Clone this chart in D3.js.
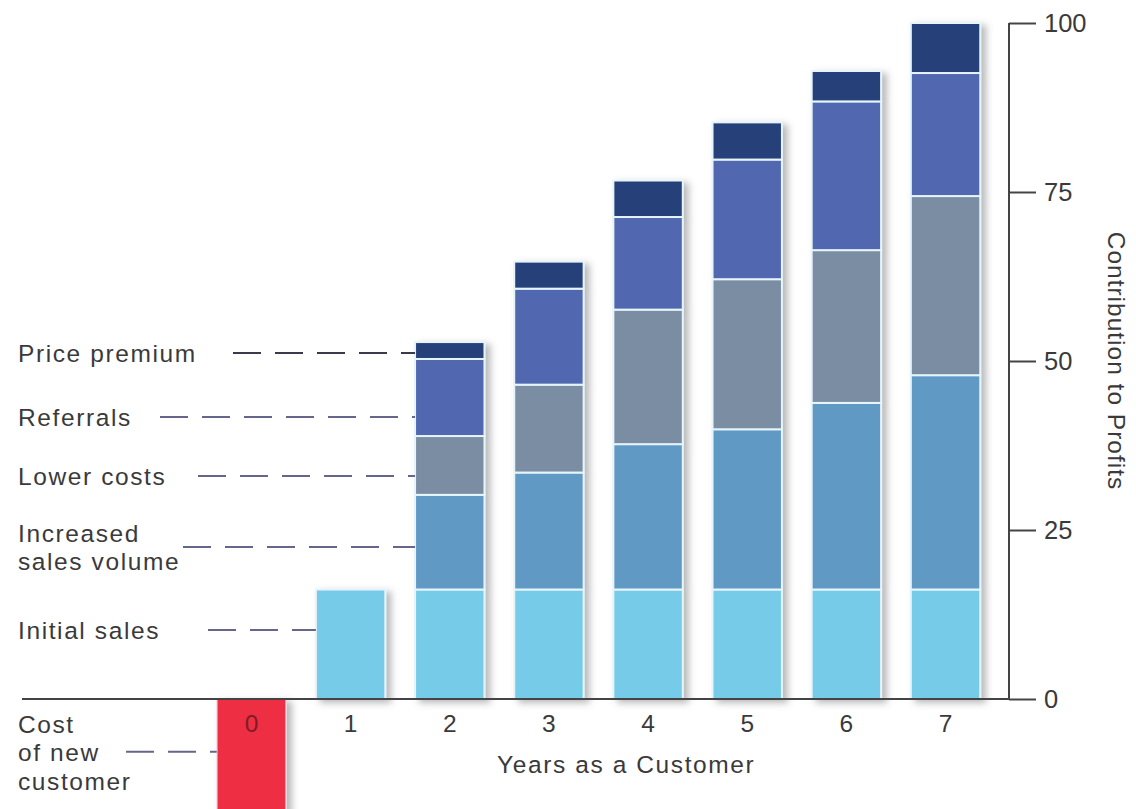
<!DOCTYPE html>
<html>
<head>
<meta charset="utf-8">
<script src="https://cdn.jsdelivr.net/npm/d3@7/dist/d3.min.js"></script>
<style>
  body { margin: 0; background: #fff; }
  svg { display: block; font-family: "Liberation Sans", Arial, Helvetica, sans-serif; }
  .lbl { font-size: 24.5px; fill: #3a3a3a; letter-spacing: 1.6px; }
  .tick text { font-size: 25.5px; fill: #3a3a3a; }
</style>
</head>
<body>
<div id="chart"></div>
<script>
// years on the x axis
var years = ["0", "1", "2", "3", "4", "5", "6", "7"];
// stacked series, bottom to top
var seriesNames = ["Initial sales", "Increased sales volume", "Lower costs", "Referrals", "Price premium"];
var initialSales   = [0, 16.2, 16.2, 16.2, 16.2, 16.2, 16.2, 16.2];
var salesVolume    = [0, 0, 14.0, 17.3, 21.5, 23.7, 27.6, 31.7];
var lowerCosts     = [0, 0, 8.7, 13.0, 19.9, 22.2, 22.6, 26.5];
var referrals      = [0, 0, 11.4, 14.2, 13.7, 17.7, 22.0, 18.2];
var pricePremium   = [0, 0, 2.5, 4.0, 5.4, 5.5, 4.5, 7.4];
var costOfCustomer = [-18, 0, 0, 0, 0, 0, 0, 0];
var seriesColors = ["#74cbe8", "#6199c4", "#7a8da2", "#5168b0", "#263f7a"];
var costColor = "#ee2d43";
var yTicks = [0, 25, 50, 75, 100];

// left-hand labels: text lines, where the leader sits (in profit units), which bar it points to
var labelLines = [["Price premium"], ["Referrals"], ["Lower costs"], ["Increased", "sales volume"], ["Initial sales"], ["Cost", "of new", "customer"]];
var leaderAt = [51.2, 41.7, 33.0, 22.5, 10.2, -7.8];
var leaderBar = ["2", "2", "2", "2", "1", "0"];
var leaderFrom = [233, 160, 198, 183, 208, 126];

var width = 1136, height = 809;
var svg = d3.select("#chart").append("svg").attr("width", width).attr("height", height);

var x = d3.scaleBand().domain(years).range([187, 1010]).paddingInner(0.3).paddingOuter(0.3);
var y = d3.scaleLinear().domain([0, 100]).range([699, 23]);

var defs = svg.append("defs");
defs.append("filter").attr("id", "shadow").attr("x", "-20%").attr("y", "-10%").attr("width", "150%").attr("height", "130%")
    .append("feDropShadow").attr("dx", 5).attr("dy", 3).attr("stdDeviation", 3.5)
    .attr("flood-color", "#666").attr("flood-opacity", 0.45);

// stack
var table = years.map(function (yr, i) {
    return { year: yr, s0: initialSales[i], s1: salesVolume[i], s2: lowerCosts[i], s3: referrals[i], s4: pricePremium[i] };
});
var stack = d3.stack().keys(["s0", "s1", "s2", "s3", "s4"]);
var stacked = stack(table);

// baseline
svg.append("line").attr("x1", 22).attr("x2", 1010).attr("y1", y(0)).attr("y2", y(0))
    .attr("stroke", "#444").attr("stroke-width", 2).attr("filter", "url(#shadow)");

// cost bar (negative)
svg.append("g").selectAll("rect").data(costOfCustomer.map(function (v, i) { return { year: years[i], v: v }; }).filter(function (d) { return d.v < 0; }))
    .enter().append("rect")
    .attr("x", function (d) { return x(d.year); })
    .attr("y", y(0))
    .attr("width", x.bandwidth())
    .attr("height", function (d) { return y(d.v) - y(0); })
    .attr("fill", costColor)
    .attr("stroke", "#f4e4e8").attr("stroke-width", 1.5)
    .attr("filter", "url(#shadow)");

// stacked bars, one group per year so each casts a shadow
var barG = svg.append("g").selectAll("g.bar")
    .data(table.filter(function (d) { return d.s0 > 0; }))
    .enter().append("g").attr("class", "bar").attr("filter", "url(#shadow)");

barG.selectAll("rect")
    .data(function (d) {
        var idx = years.indexOf(d.year);
        return stacked.map(function (s, k) { return { year: d.year, y0: s[idx][0], y1: s[idx][1], k: k }; })
            .filter(function (e) { return e.y1 - e.y0 > 0; });
    })
    .enter().append("rect")
    .attr("x", function (d) { return x(d.year); })
    .attr("y", function (d) { return y(d.y1); })
    .attr("width", x.bandwidth())
    .attr("height", function (d) { return y(d.y0) - y(d.y1); })
    .attr("fill", function (d) { return seriesColors[d.k]; })
    .attr("stroke", "#e6f4fb").attr("stroke-width", 2);

// baseline over the bars
svg.append("line").attr("x1", 22).attr("x2", 1010).attr("y1", y(0)).attr("y2", y(0))
    .attr("stroke", "#444").attr("stroke-width", 2);

// right axis
var yAxis = svg.append("g").attr("class", "y axis").attr("transform", "translate(1009,0)")
    .call(d3.axisRight(y).tickValues(yTicks).tickSize(27).tickPadding(8));
yAxis.select(".domain").attr("stroke", "#444").attr("stroke-width", 2).attr("d", "M0," + y(100) + "V" + y(0));
yAxis.selectAll(".tick line").attr("stroke", "#444").attr("stroke-width", 2);
yAxis.selectAll(".tick text").attr("font-family", "Liberation Sans, Arial, sans-serif");

svg.append("text").attr("class", "lbl")
    .attr("transform", "translate(1108," + y(50) + ") rotate(90)")
    .attr("text-anchor", "middle").style("letter-spacing", "1px")
    .text("Contribution to Profits");

// year labels
svg.append("g").selectAll("text").data(years).enter().append("text")
    .attr("x", function (d) { return x(d) + x.bandwidth() / 2; })
    .attr("y", 732)
    .attr("text-anchor", "middle")
    .attr("font-size", 24.5)
    .attr("fill", function (d, i) { return costOfCustomer[i] < 0 ? "#7e1c27" : "#3a3a3a"; })
    .text(function (d) { return d; });

svg.append("text").attr("class", "lbl").attr("x", 497).attr("y", 773).text("Years as a Customer");

// left labels + dashed leaders
var lab = svg.append("g").selectAll("g").data(labelLines).enter().append("g");
lab.append("line")
    .attr("x1", function (d, i) { return leaderFrom[i]; })
    .attr("x2", function (d, i) { return x(leaderBar[i]); })
    .attr("y1", function (d, i) { return y(leaderAt[i]); })
    .attr("y2", function (d, i) { return y(leaderAt[i]); })
    .attr("stroke", function (d, i) { return i === 0 ? "#3a3a4a" : "#66668c"; })
    .attr("stroke-width", 2)
    .attr("stroke-dasharray", "28,14");
lab.append("text").attr("class", "lbl")
    .attr("x", 18)
    .attr("y", function (d, i) { return y(leaderAt[i]) + 9 - (d.length - 1) * 14; })
    .selectAll("tspan").data(function (d) { return d; }).enter().append("tspan")
    .attr("x", 18)
    .attr("dy", function (d, j) { return j === 0 ? 0 : 28.5; })
    .text(function (d) { return d; });
</script>
</body>
</html>
